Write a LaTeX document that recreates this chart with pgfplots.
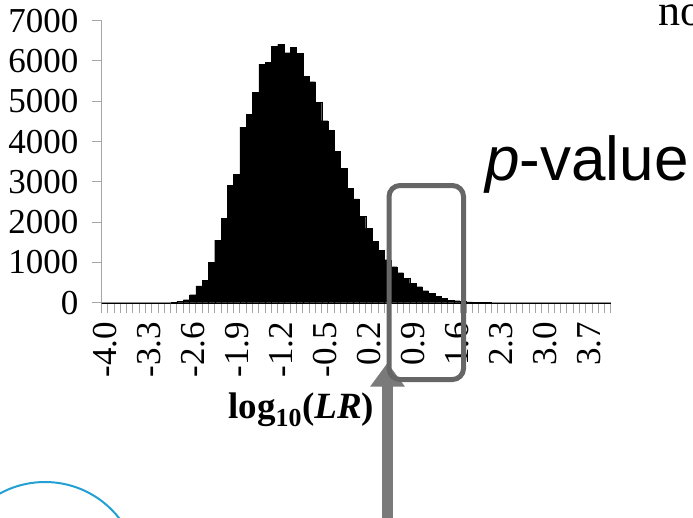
\documentclass[border=0pt]{standalone}
\usepackage{fontspec}
\setmainfont{Liberation Serif}
\newfontfamily\arialfont{Liberation Sans}
\usepackage{pgfplots}
\usepackage{pgfplotstable}
\pgfplotsset{compat=1.18}
\definecolor{axgray}{HTML}{A6A6A6}
\definecolor{boxgray}{HTML}{666666}
\definecolor{arrowgray}{HTML}{7A7A7A}
\definecolor{arcblue}{HTML}{22A0D2}
% bin index k -> log10(LR) = -4.0 + 0.1 k
\pgfplotstableread{
k v
0 0
1 0
2 0
3 0
4 0
5 0
6 0
7 0
8 0
9 0
10 0
11 10
12 40
13 75
14 200
15 420
16 550
17 1010
18 1555
19 2090
20 2920
21 3190
22 4360
23 4675
24 5220
25 5915
26 5965
27 6370
28 6410
29 6205
30 6345
31 6190
32 5625
33 5485
34 4970
35 4520
36 4285
37 3755
38 3340
39 2845
40 2580
41 2150
42 1845
43 1520
44 1305
45 1070
46 893
47 744
48 604
49 480
50 397
51 298
52 232
53 165
54 108
55 66
56 50
57 33
58 20
59 15
60 10
61 5
62 2
63 0
64 0
65 0
66 0
67 0
68 0
69 0
70 0
71 0
72 0
73 0
74 0
75 0
76 0
77 0
78 0
79 0
80 0
}\histdata
\begin{document}
\begin{tikzpicture}[x=1pt,y=1pt]
\path[use as bounding box] (0pt,0pt) rectangle (693pt,-517pt);
\coordinate (axorigin) at (101.5pt,-302.7pt);
\begin{axis}[
  at={(axorigin)}, anchor=south west,
  scale only axis, width=509.5pt, height=282pt,
  xmin=-0.5, xmax=80.5, ymin=0, ymax=7000,
  axis x line*=bottom, axis y line*=left,
  axis line style={draw=axgray, line width=1.2pt},
  ybar, bar width=1,
  xtick={0,7,...,77},
  xticklabels={-4.0,-3.3,-2.6,-1.9,-1.2,-0.5,0.2,0.9,1.6,2.3,3.0,3.7},
  minor xtick={-0.5,0.5,...,80.5},
  major x tick style={draw=none},
  minor x tick style={draw=axgray, line width=1pt},
  minor tick length=10pt,
  ytick={0,1000,...,7000},
  yticklabels={0,1000,2000,3000,4000,5000,6000,7000},
  y tick style={draw=axgray, line width=1pt},
  major tick length=9pt,
  tick align=outside,
  scaled y ticks=false,
  xticklabel shift=10pt,
  xticklabel style={rotate=90, anchor=east, inner sep=0pt, font=\fontsize{35}{35}\selectfont},
  yticklabel style={anchor=east, inner sep=0pt, font=\fontsize{35}{35}\selectfont, xshift=-14pt},
  xlabel={\textbf{log\textsubscript{10}(\textit{LR})}},
  xlabel style={font=\fontsize{37}{37}\selectfont, at={(axis description cs:0.392,-0.409)}, anchor=base, inner sep=0pt},
  clip=false,
]
\addplot[fill=black, draw=black, line width=0.2pt] table[x=k, y=v] {\histdata};
\end{axis}
\begin{scope}
\clip (0pt,0pt) rectangle (693pt,-517pt);
\draw[arcblue, line width=2pt] (45pt,-576pt) circle (94pt);
\fill[arrowgray] (381.7pt,-520pt) rectangle (393.3pt,-386pt);
\fill[arrowgray] (370pt,-386.7pt) -- (405pt,-386.7pt) -- (387.5pt,-363pt) -- cycle;
\draw[boxgray, line width=5pt, rounded corners=11pt] (389pt,-185.5pt) rectangle (463.5pt,-379.5pt);
\node[anchor=base west, inner sep=0pt, font=\arialfont\fontsize{62}{62}\selectfont] at (485pt,-180pt) {\textit{p}-value};
\node[anchor=base west, inner sep=0pt, font=\fontsize{44}{44}\selectfont] at (658pt,-25pt) {no};
\end{scope}
\end{tikzpicture}
\end{document}
